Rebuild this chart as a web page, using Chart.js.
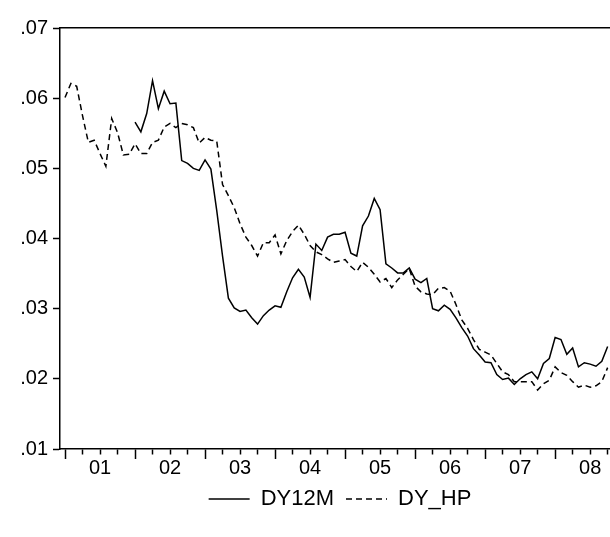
<!DOCTYPE html>
<html>
<head>
<meta charset="utf-8">
<title>DY12M vs DY_HP</title>
<script src="https://cdn.jsdelivr.net/npm/chart.js@4.4.1/dist/chart.umd.min.js"></script>
<style>
  html, body { margin: 0; padding: 0; background: #fff; overflow: hidden; }
</style>
</head>
<body>
<canvas id="dyChart" width="680" height="537"></canvas>
<script>
// monthly obs, index 0 = 2001M01
const years = ['01', '02', '03', '04', '05', '06', '07', '08'];
const yTicks = [0.01, 0.02, 0.03, 0.04, 0.05, 0.06, 0.07];

// DY12M starts 2002M01 (first 12 months empty)
const dy12m = [
  null, null, null, null, null, null, null, null, null, null, null, null,
  .0566, .0552, .0578, .0625, .0585, .0610, .0592, .0593, .0511, .0507, .0500, .0497,
  .0512, .0499, .0440, .0375, .0315, .0301, .0296, .0298, .0287, .0278, .0290, .0298,
  .0304, .0302, .0324, .0344, .0356, .0345, .0316, .0392, .0383, .0402, .0406, .0406,
  .0409, .0379, .0375, .0418, .0432, .0457, .0441, .0364, .0358, .0351, .0351, .0358,
  .0342, .0337, .0343, .0300, .0297, .0305, .0299, .0287, .0273, .0261, .0243, .0234,
  .0224, .0223, .0206, .0199, .0201, .0192, .0200, .0206, .0210, .0200, .0222, .0229,
  .0259, .0256, .0235, .0244, .0217, .0223, .0221, .0218, .0225, .0246
];

const dyHp = [
  .0601, .0621, .0617, .0575, .0537, .0540, .0521, .0503, .0571, .0551, .0519, .0520,
  .0535, .0521, .0521, .0537, .0540, .0559, .0564, .0558, .0564, .0562, .0558, .0536,
  .0544, .0540, .0539, .0477, .0461, .0444, .0421, .0402, .0390, .0375, .0394, .0394,
  .0405, .0378, .0397, .0410, .0419, .0406, .0390, .0381, .0377, .0371, .0366, .0368,
  .0370, .0360, .0353, .0366, .0359, .0349, .0338, .0343, .0330, .0341, .0349, .0357,
  .0332, .0324, .0321, .0320, .0329, .0330, .0325, .0306, .0284, .0272, .0256, .0242,
  .0238, .0234, .0222, .0210, .0206, .0196, .0196, .0196, .0196, .0184, .0193, .0198,
  .0217, .0209, .0205, .0196, .0188, .0191, .0188, .0190, .0196, .0216
];

const fontFamily = "'Liberation Sans', Arial, sans-serif";
const tickFont = { family: fontFamily, size: 20 };
const legendFont = { family: fontFamily, size: 22 };
const toPoints = arr => arr.map((v, i) => ({ x: i, y: v }));

const ctx = document.getElementById('dyChart').getContext('2d');
new Chart(ctx, {
  type: 'line',
  data: {
    datasets: [
      {
        label: 'DY12M',
        data: toPoints(dy12m),
        borderColor: '#000',
        borderWidth: 1.5,
        pointRadius: 0,
        tension: 0,
        spanGaps: false,
      },
      {
        label: 'DY_HP',
        data: toPoints(dyHp),
        borderColor: '#000',
        borderWidth: 1.5,
        borderDash: [6, 4],
        pointRadius: 0,
        tension: 0,
      },
    ],
  },
  options: {
    responsive: false,
    animation: false,
    layout: { padding: { top: 28, left: 0, right: 0, bottom: 17 } },
    plugins: {
      tooltip: { enabled: false },
      legend: {
        position: 'bottom',
        labels: {
          usePointStyle: true,
          pointStyle: 'line',
          pointStyleWidth: 41,
          color: '#000',
          font: legendFont,
          padding: 12,
          // point style loses the dataset dash, put it back
          generateLabels: chart => {
            const items = Chart.defaults.plugins.legend.labels.generateLabels(chart);
            items.forEach(it => {
              const ds = chart.data.datasets[it.datasetIndex];
              it.lineDash = ds.borderDash || [];
              it.lineWidth = ds.borderWidth;
              it.strokeStyle = ds.borderColor;
            });
            return items;
          },
        },
      },
    },
    scales: {
      x: {
        type: 'linear',
        position: 'bottom',
        min: -0.86,
        max: 105.4,
        afterBuildTicks: s => {
          s.ticks = [];
          for (let v = 0; v <= s.max; v += 3) s.ticks.push({ value: v });
        },
        afterFit: s => { s.height = 27; },
        grid: {
          drawOnChartArea: false,
          drawTicks: true,
          tickLength: 10,
          tickColor: '#000',
          tickWidth: 1.5,
          // year ticks long, quarter ticks cut short
          tickBorderDash: c => (c.tick && c.tick.value % 12 === 0) ? [] : [5, 30],
        },
        border: { display: true, color: '#000', width: 1.5 },
        ticks: {
          autoSkip: false,
          maxRotation: 0,
          padding: -3,
          color: '#000',
          font: tickFont,
          callback: v => (v % 12 === 6 && years[(v - 6) / 12]) ? years[(v - 6) / 12] : '',
        },
      },
      xTop: {
        type: 'linear',
        position: 'top',
        min: -0.86,
        max: 105.4,
        afterFit: s => { s.height = 0; },
        grid: { display: false },
        ticks: { display: false },
        border: { display: true, color: '#000', width: 1.5 },
      },
      y: {
        min: 0.01,
        max: 0.07,
        afterBuildTicks: s => { s.ticks = yTicks.map(v => ({ value: v })); },
        afterFit: s => { s.width = 60; },
        grid: {
          drawOnChartArea: false,
          tickLength: 7,
          tickColor: '#000',
          tickWidth: 1.5,
        },
        border: { display: true, color: '#000', width: 1.5 },
        ticks: {
          padding: 5,
          color: '#000',
          font: tickFont,
          callback: v => '.' + String(Math.round(v * 100)).padStart(2, '0'),
        },
      },
    },
  },
});
</script>
</body>
</html>
